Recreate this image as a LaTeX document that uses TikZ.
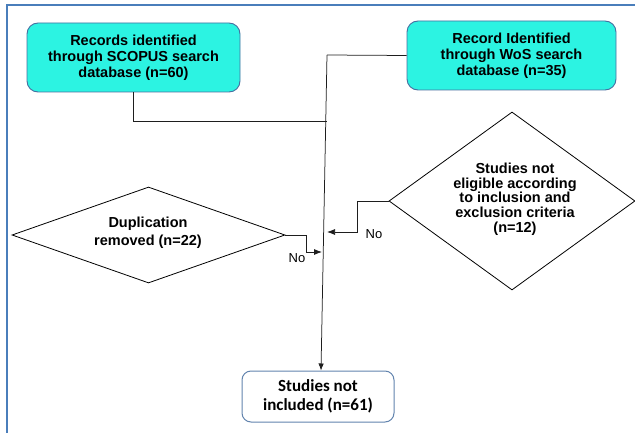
\documentclass[tikz,border=0pt]{standalone}
\usepackage{fontspec}
\setmainfont{Liberation Sans}
\newfontfamily\carlito{Carlito}
\usetikzlibrary{shapes.geometric,arrows.meta,calc}

\definecolor{boxcyan}{RGB}{44,243,226}
\definecolor{boxedge}{RGB}{70,110,160}
\definecolor{frameblue}{RGB}{74,126,187}
\definecolor{wireclr}{RGB}{30,30,30}

\tikzset{
  srcbox/.style={draw=boxedge, line width=0.9pt, fill=boxcyan, rounded corners=11pt,
    inner sep=0pt, align=center},
  endbox/.style={draw=boxedge!85, line width=1pt, fill=white, rounded corners=9pt,
    inner sep=0pt, align=center},
  decide/.style={diamond, draw=black, line width=0.8pt, inner sep=0pt},
  boldtxt/.style={font=\fontsize{14.5}{16}\selectfont\bfseries, align=center, inner sep=0pt},
  wire/.style={draw=wireclr, line width=0.75pt},
  arrowwire/.style={wire, -{Latex[length=7pt,width=5.5pt]}},
  nolabel/.style={font=\fontsize{13}{14}\selectfont, inner sep=0pt}
}

\begin{document}
\begin{tikzpicture}[x=1pt, y=-1pt]
  \useasboundingbox (0,0) rectangle (635,433);

  % outer frame (top and left edges)
  \draw[frameblue, line width=1.6pt] (7,433) -- (7,5) -- (635,5);

  % source databases
  \node[srcbox, minimum width=213pt, minimum height=69pt] (scopus) at (133.5,57.5) {};
  \node[boldtxt] (scopustxt) at (scopus) {Records identified\\through SCOPUS search\\database (n=60)};

  \node[srcbox, minimum width=209pt, minimum height=69pt] (wos) at (511.5,55.5) {};
  \node[boldtxt] (wostxt) at (wos) {Record Identified\\through WoS search\\database (n=35)};

  % decision diamonds
  \node[decide, minimum width=273pt, minimum height=96pt] (dup) at (148.5,235) {};
  \node[boldtxt, font=\fontsize{14.5}{18}\selectfont\bfseries] (duptxt) at (148,233) {Duplication\\removed (n=22)};

  \node[decide, minimum width=246pt, minimum height=178pt] (elig) at (512,201) {};
  \node[boldtxt, font=\fontsize{14.5}{14.7}\selectfont\bfseries] (eligtxt) at (515,199) {Studies not\\eligible according\\to inclusion and\\exclusion criteria\\(n=12)};

  % final outcome
  \node[endbox, minimum width=152pt, minimum height=51pt] (studies) at (318,396.5) {};
  \node[font=\carlito\fontsize{17}{19}\selectfont\bfseries, align=center, inner sep=0pt] (studiestxt) at (studies) {Studies not\\included (n=61)};

  % main trunk and its feeders
  \coordinate (ttop) at (327,55);
  \coordinate (tjoin) at (327,121);
  \draw[wire] (scopus.south) |- (tjoin);
  \draw[wire] (wos.west) -- (ttop);
  \draw[arrowwire] (ttop) -- ([xshift=3pt]studies.north);

  % "No" branches into the trunk
  \coordinate (dupend) at (322,252);
  \draw[arrowwire, -{Latex[length=8pt,width=6pt]}] (dup.east) -- ++(21,0) |- (dupend);
  \node[nolabel] (nodup) at (297,258) {No};

  \coordinate (eligend) at (327,232);
  \draw[arrowwire, -{Latex[length=8pt,width=6pt]}] (elig.west) -- ++(-31,0) |- (eligend);
  \node[nolabel] (noelig) at (374,234) {No};
\end{tikzpicture}
\end{document}
